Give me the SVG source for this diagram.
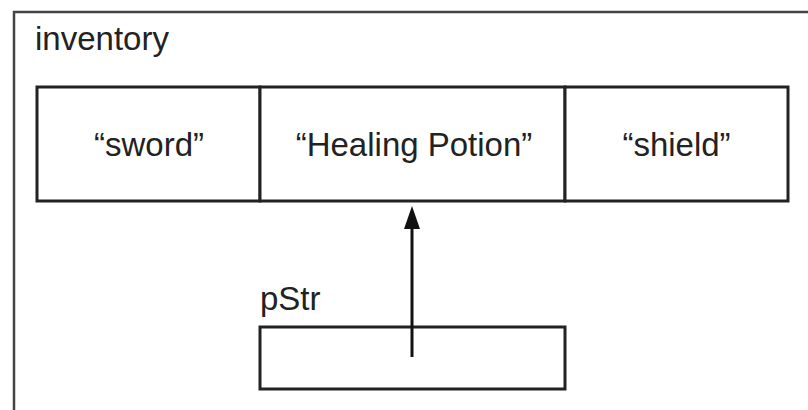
<svg xmlns="http://www.w3.org/2000/svg" width="808" height="410" viewBox="0 0 808 410">
<style>
text{font-family:"Liberation Sans",Arial,sans-serif;fill:#222;font-size:33px}
.box{fill:#fff;stroke:#222;stroke-width:3}
.outer{fill:#fff;stroke:#444;stroke-width:2.5}
.conn{stroke:#111;stroke-width:3;fill:none}
.head{fill:#111}
</style>
<rect width="808" height="410" fill="#fff"/>
<g id="inventory">
<rect class="outer" x="14" y="12" width="820" height="420"/>
<text x="35" y="50">inventory</text>
</g>
<g id="cell-sword">
<rect class="box" x="37" y="87" width="223" height="114"/>
<text x="149" y="156" text-anchor="middle">“sword”</text>
</g>
<g id="cell-healing">
<rect class="box" x="260" y="87" width="305" height="114"/>
<text x="414" y="156" text-anchor="middle">“Healing Potion”</text>
</g>
<g id="cell-shield">
<rect class="box" x="565" y="87" width="223" height="114"/>
<text x="676.5" y="156" text-anchor="middle">“shield”</text>
</g>
<g id="pStr">
<text x="260" y="310">pStr</text>
<rect class="box" x="260" y="327" width="305" height="62"/>
</g>
<g id="connectors">
<line class="conn" x1="412" y1="357" x2="412" y2="226"/>
<polygon class="head" points="412,206 404,229 420,229"/>
</g>
</svg>
